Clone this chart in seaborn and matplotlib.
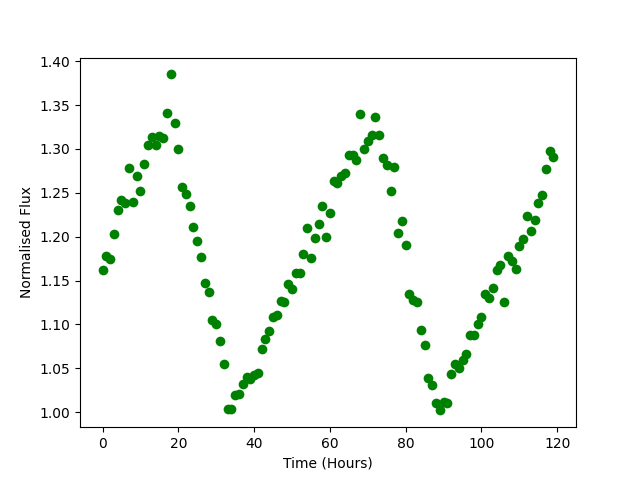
import matplotlib
matplotlib.use("Agg")
import matplotlib.pyplot as plt
import seaborn as sns
import pandas as pd
import numpy as np

# hours 0..119, one reading per hour
hours = list(range(120))
flux = [
    1.162, 1.178, 1.175, 1.203, 1.230, 1.242, 1.238, 1.278, 1.240, 1.269,
    1.252, 1.283, 1.305, 1.314, 1.305, 1.315, 1.313, 1.341, 1.385, 1.330,
    1.300, 1.257, 1.249, 1.235, 1.211, 1.195, 1.177, 1.147, 1.137, 1.105,
    1.101, 1.081, 1.055, 1.004, 1.004, 1.020, 1.021, 1.032, 1.040, 1.038,
    1.042, 1.045, 1.072, 1.083, 1.093, 1.108, 1.111, 1.127, 1.125, 1.146,
    1.140, 1.159, 1.159, 1.180, 1.210, 1.176, 1.199, 1.214, 1.235, 1.200,
    1.227, 1.263, 1.261, 1.269, 1.273, 1.293, 1.293, 1.287, 1.340, 1.300,
    1.309, 1.316, 1.337, 1.316, 1.290, 1.282, 1.252, 1.280, 1.204, 1.218,
    1.190, 1.135, 1.128, 1.125, 1.094, 1.077, 1.039, 1.031, 1.010, 1.002,
    1.012, 1.011, 1.043, 1.055, 1.050, 1.060, 1.066, 1.088, 1.088, 1.100,
    1.108, 1.135, 1.130, 1.142, 1.162, 1.168, 1.126, 1.178, 1.172, 1.163,
    1.189, 1.197, 1.224, 1.206, 1.219, 1.238, 1.248, 1.277, 1.298, 1.291,
]

df = pd.DataFrame({"Time (Hours)": hours, "Normalised Flux": flux})

fig, ax = plt.subplots(figsize=(6.4, 4.8), dpi=100)
sns.scatterplot(data=df, x="Time (Hours)", y="Normalised Flux", color="green",
                s=49, linewidth=0, ax=ax)
ax.set_yticks(np.arange(1.0, 1.401, 0.05))
ax.set_yticklabels([f"{v:.2f}" for v in np.arange(1.0, 1.401, 0.05)])
fig.savefig("out.png", dpi=100)
